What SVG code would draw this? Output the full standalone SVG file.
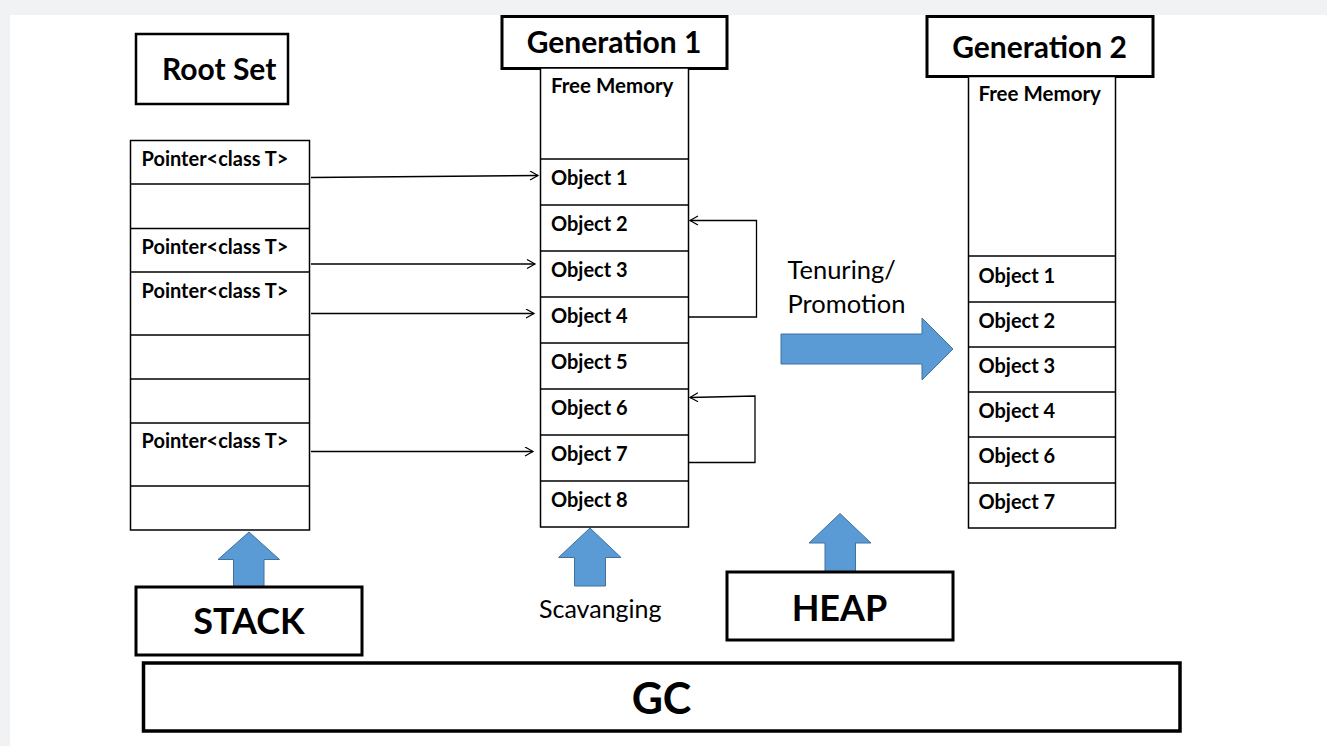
<svg xmlns="http://www.w3.org/2000/svg" width="1327" height="746" viewBox="0 0 1327 746">
<defs>
<marker id="open" markerUnits="userSpaceOnUse" markerWidth="12" markerHeight="12" refX="9" refY="5" orient="auto">
<path d="M1,0.5 L9,5 L1,9.5" fill="none" stroke="#000" stroke-width="1.2"/>
</marker>
</defs>
<style>
text{font-family:Lato,"Liberation Sans",sans-serif;fill:#000}
.cell{fill:#fff;stroke:#000;stroke-width:1.5}
.row{stroke:#000;stroke-width:1.5}
.hdr{fill:#fff;stroke:#000;stroke-width:3}
.ptr{font-weight:bold;font-size:20px}
.free{font-weight:bold;font-size:20.5px}
.obj{font-weight:bold;font-size:20px}
.title{font-weight:bold;font-size:30px}
.big{font-weight:bold;text-anchor:middle}
.lbl{font-size:25.5px}
.conn{fill:none;stroke:#000;stroke-width:1.3}
.blk{fill:#5b9bd5;stroke:#41719c;stroke-width:1}
</style>
<rect x="0" y="0" width="1327" height="746" fill="#f1f2f4"/>
<rect x="10" y="15" width="1317" height="731" fill="#fff"/>

<g id="root-set">
<rect x="136" y="34" width="152" height="70" fill="#fff" stroke="#000" stroke-width="2.5"/>
<text x="162" y="80" style="font-weight:bold;font-size:30px">Root Set</text>
</g>

<g id="stack-column">
<rect class="cell" x="130.5" y="140.5" width="179" height="389.5"/>
<line class="row" x1="130.5" y1="184" x2="309.5" y2="184"/>
<line class="row" x1="130.5" y1="228.5" x2="309.5" y2="228.5"/>
<line class="row" x1="130.5" y1="272" x2="309.5" y2="272"/>
<line class="row" x1="130.5" y1="335" x2="309.5" y2="335"/>
<line class="row" x1="130.5" y1="379" x2="309.5" y2="379"/>
<line class="row" x1="130.5" y1="423" x2="309.5" y2="423"/>
<line class="row" x1="130.5" y1="486" x2="309.5" y2="486"/>
<text class="ptr" x="141.5" y="166">Pointer&lt;class T&gt;</text>
<text class="ptr" x="141.5" y="254">Pointer&lt;class T&gt;</text>
<text class="ptr" x="141.5" y="298">Pointer&lt;class T&gt;</text>
<text class="ptr" x="141.5" y="448">Pointer&lt;class T&gt;</text>
</g>

<g id="generation-1">
<rect class="hdr" x="502" y="16.5" width="225" height="52"/>
<text class="title" x="614" y="53" text-anchor="middle">Generation 1</text>
<rect class="cell" x="540.5" y="68" width="148" height="459"/>
<line class="row" x1="540.5" y1="159" x2="688.5" y2="159"/>
<line class="row" x1="540.5" y1="205" x2="688.5" y2="205"/>
<line class="row" x1="540.5" y1="251" x2="688.5" y2="251"/>
<line class="row" x1="540.5" y1="297" x2="688.5" y2="297"/>
<line class="row" x1="540.5" y1="343" x2="688.5" y2="343"/>
<line class="row" x1="540.5" y1="389" x2="688.5" y2="389"/>
<line class="row" x1="540.5" y1="435" x2="688.5" y2="435"/>
<line class="row" x1="540.5" y1="481" x2="688.5" y2="481"/>
<text class="free" x="551" y="93">Free Memory</text>
<text class="obj" x="551" y="185">Object 1</text>
<text class="obj" x="551" y="231">Object 2</text>
<text class="obj" x="551" y="277">Object 3</text>
<text class="obj" x="551" y="323">Object 4</text>
<text class="obj" x="551" y="369">Object 5</text>
<text class="obj" x="551" y="415">Object 6</text>
<text class="obj" x="551" y="461">Object 7</text>
<text class="obj" x="551" y="507">Object 8</text>
</g>

<g id="generation-2">
<rect class="hdr" x="927" y="16.5" width="226" height="60"/>
<text class="title" x="1039.5" y="58" text-anchor="middle">Generation 2</text>
<rect class="cell" x="968.5" y="76.5" width="147" height="451.5"/>
<line class="row" x1="968.5" y1="256" x2="1115.5" y2="256"/>
<line class="row" x1="968.5" y1="302" x2="1115.5" y2="302"/>
<line class="row" x1="968.5" y1="347" x2="1115.5" y2="347"/>
<line class="row" x1="968.5" y1="392" x2="1115.5" y2="392"/>
<line class="row" x1="968.5" y1="437" x2="1115.5" y2="437"/>
<line class="row" x1="968.5" y1="483" x2="1115.5" y2="483"/>
<text class="free" x="978.5" y="101">Free Memory</text>
<text class="obj" x="978.5" y="283">Object 1</text>
<text class="obj" x="978.5" y="328">Object 2</text>
<text class="obj" x="978.5" y="373">Object 3</text>
<text class="obj" x="978.5" y="418">Object 4</text>
<text class="obj" x="978.5" y="463">Object 6</text>
<text class="obj" x="978.5" y="509">Object 7</text>
</g>

<g id="connectors">
<path class="conn" d="M311,177.5 L538,175.5" marker-end="url(#open)"/>
<path class="conn" d="M311,264 L535,264" marker-end="url(#open)"/>
<path class="conn" d="M311,313.5 L534,313.5" marker-end="url(#open)"/>
<path class="conn" d="M311,451.5 L533,451.5" marker-end="url(#open)"/>
<path class="conn" d="M688.5,317 H756.5 V220.5 H690" marker-end="url(#open)"/>
<path class="conn" d="M688.5,462.5 H755 V396 L690,397.5" marker-end="url(#open)"/>
</g>

<g id="tenuring">
<text class="lbl" x="787.5" y="279">Tenuring/</text>
<text class="lbl" x="787.5" y="313">Promotion</text>
<polygon class="blk" points="781,334 922,334 922,318 953,349 922,380 922,364 781,364"/>
</g>

<g id="stack">
<polygon class="blk" points="249,532 279.5,559.5 264,559.5 264,587 233.5,587 233.5,559.5 218,559.5"/>
<rect class="hdr" x="136" y="587" width="226" height="68"/>
<text class="big" x="249" y="634" style="font-size:36px">STACK</text>
</g>

<g id="scavenging">
<polygon class="blk" points="590,528 621,557.5 605.5,557.5 605.5,586 574.5,586 574.5,557.5 558.5,557.5"/>
<text x="539" y="618" style="font-size:25px">Scavanging</text>
</g>

<g id="heap">
<polygon class="blk" points="840,513.5 871,543 855.5,543 855.5,571.5 825,571.5 825,543 809,543"/>
<rect class="hdr" x="727" y="572" width="226" height="68"/>
<text class="big" x="839.5" y="621" style="font-size:36px">HEAP</text>
</g>

<g id="gc">
<rect x="143.5" y="663" width="1036.5" height="68" fill="#fff" stroke="#000" stroke-width="3.5"/>
<text class="big" x="661.5" y="714" style="font-size:43px">GC</text>
</g>
</svg>
